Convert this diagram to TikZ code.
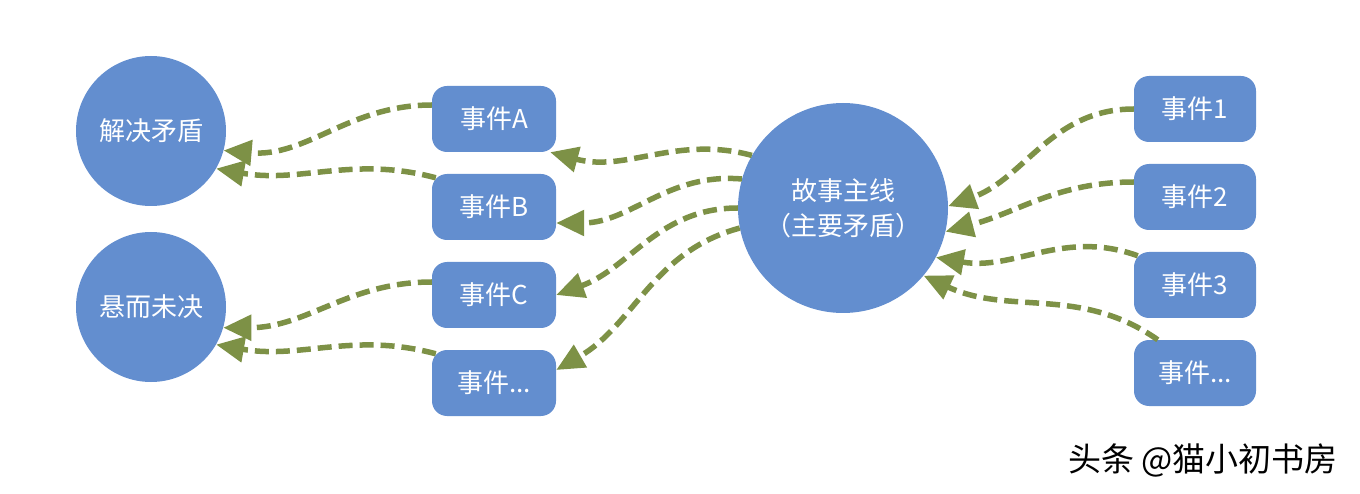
\documentclass[tikz,border=0pt]{standalone}
\usepackage{fontspec}
\setmainfont{Noto Sans CJK SC}
\usetikzlibrary{arrows.meta}
\definecolor{nodeblue}{HTML}{638ECF}
\definecolor{arrgreen}{HTML}{7D9146}
\begin{document}
\begin{tikzpicture}[x=1pt,y=-1pt,
  circ/.style={circle,fill=nodeblue,draw=none,text=white,minimum size=150pt,inner sep=0pt,font=\fontsize{26}{30}\selectfont},
  bigcirc/.style={circ,minimum size=210pt,align=center,font=\fontsize{26}{35}\selectfont},
  evbox/.style={rectangle,rounded corners=15pt,fill=nodeblue,text=white,minimum height=66pt,inner sep=0pt,font=\fontsize{26}{30}\selectfont},
  arr/.style={draw=arrgreen,line width=5.5pt,dash pattern=on 14pt off 7pt,-{Triangle[length=28pt,width=25pt]}}
]
\useasboundingbox (0,0) rectangle (1360,494);

\node[circ] (res) at (151,131) {解决矛盾};
\node[circ] (pend) at (151,307) {悬而未决};
\node[bigcirc] (main) at (843,208) {故事主线\\（主要矛盾）};

\node[evbox,minimum width=124pt] (ea) at (494,119) {事件A};
\node[evbox,minimum width=124pt] (eb) at (494,207) {事件B};
\node[evbox,minimum width=124pt] (ec) at (494,295) {事件C};
\node[evbox,minimum width=124pt] (ed) at (494,383) {事件...};

\node[evbox,minimum width=122pt] (e1) at (1195,109) {事件1};
\node[evbox,minimum width=122pt] (e2) at (1195,197) {事件2};
\node[evbox,minimum width=122pt] (e3) at (1195,285) {事件3};
\node[evbox,minimum width=122pt] (e4) at (1195,373) {事件...};

\node[font=\fontsize{33}{33}\selectfont,text=black] (wm) at (1203,460) {头条 @猫小初书房};

% left group
\draw[arr] ([yshift=14pt]ea.west) to[out=180,in=-5] (res.-15);
\draw[arr] ([xshift=4pt,yshift=-4pt]eb.north west) to[out=165,in=-10] (res.-30);
\draw[arr] ([yshift=13pt]ec.west) to[out=180,in=0] (pend.-16);
\draw[arr] ([xshift=4pt,yshift=-4pt]ed.north west) to[out=165,in=-10] (pend.-30);

% main to events
\draw[arr] (main.150) to[out=165,in=-15] ([xshift=-6pt]ea.south east);
\draw[arr] (main.164) to[out=175,in=0] ([yshift=-16pt]eb.east);
\draw[arr] (main.180) to[out=180,in=20] (ec.east);
\draw[arr] (main.191) to[out=195,in=30] ([yshift=13pt]ed.east);

% right events to main
\draw[arr] (e1.west) to[out=180,in=20] (main.1);
\draw[arr] ([yshift=15pt]e2.west) to[out=180,in=15] (main.-13);
\draw[arr] ([xshift=4pt,yshift=-4pt]e3.north west) to[out=160,in=-10] (main.-28);
\draw[arr] ([xshift=24pt]e4.north west) to[out=145,in=-25] (main.-40);
\end{tikzpicture}
\end{document}
